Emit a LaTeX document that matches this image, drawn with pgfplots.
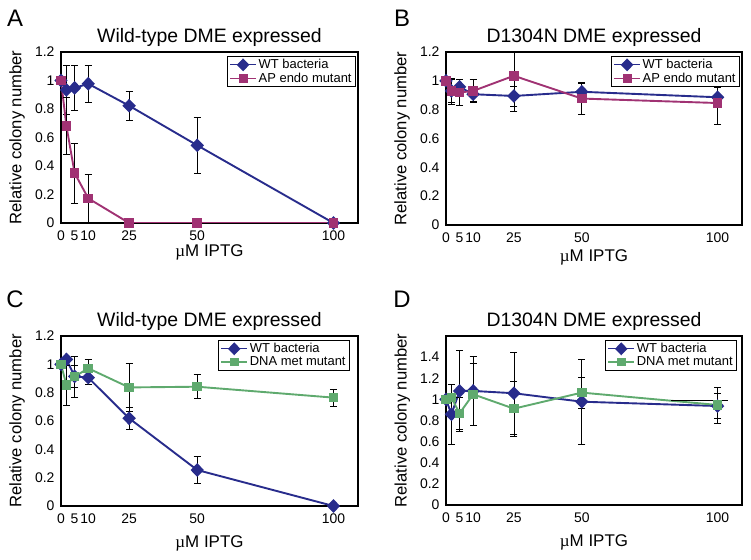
\documentclass[border=0pt]{standalone}
\usepackage{pgfplots}
\pgfplotsset{compat=1.18}
\usepackage{fontspec}
\setmainfont{Liberation Sans}
\newfontfamily\serifmu{Liberation Serif}
\definecolor{wtblue}{RGB}{40,44,140}
\definecolor{apmag}{RGB}{160,50,115}
\definecolor{dnagreen}{RGB}{95,170,110}
\pgfplotsset{
  panel/.style={
    scale only axis, width=297bp, height=171bp,
    xmin=0, xmax=109, ymin=0, ymax=1.2,
    xtick={0,5,10,25,50,100},
    ytick={0,0.2,...,1.2},
    major tick length=0pt,
    axis line style={line width=1.3bp},
    /pgf/number format/assume math mode=true,
    tick label style={font=\fontsize{14}{16}\selectfont},
    xticklabel style={yshift=-4bp},
    yticklabel style={xshift=-3bp},
    yticklabel={\pgfmathprintnumber[fixed,precision=1]{\tick}},
    title style={font=\fontsize{19.5}{22}\selectfont, at={(axis description cs:0.5,1)}, anchor=center, yshift=9bp},
    ylabel={Relative colony number},
    ylabel style={font=\fontsize{16.7}{19}\selectfont, at={(axis description cs:-0.148,0.5)}, anchor=center},
    xlabel={{\serifmu µ}M IPTG},
    xlabel style={font=\fontsize{17}{19}\selectfont},
    legend style={at={(axis description cs:1,1)}, anchor=north east, xshift=-2bp, yshift=-4bp, font=\fontsize{13}{15}\selectfont, draw=black, line width=0.8bp, inner xsep=2bp, inner ysep=1bp, row sep=-1.5pt},
    legend cell align=left,
    legend image code/.code={\draw[mark repeat=2,mark phase=2,line width=1.3bp] plot coordinates {(0bp,0bp)(13bp,0bp)(26bp,0bp)};},
  },
  eb/.style={error bars/.cd, y dir=both, y explicit,
    error bar style={black, line width=0.6bp},
    error mark options={rotate=90, black, mark size=3.5bp, line width=0.6bp}},
  wt/.style={wtblue, line width=1.9bp, mark=diamond*, mark size=5.5bp, mark options={xscale=1.3, solid, fill=wtblue}, eb},
  ap/.style={apmag, line width=1.9bp, mark=square*, mark size=3.8bp, mark options={solid, fill=apmag}, eb},
  dna/.style={dnagreen, line width=1.9bp, mark=square*, mark size=3.8bp, mark options={solid, fill=dnagreen}, eb},
}
\begin{document}
\begin{tikzpicture}
\useasboundingbox (0,0) rectangle (751bp,560bp);
\node[font=\fontsize{24}{28}\selectfont] at (15bp,542bp) {A};
\node[font=\fontsize{24}{28}\selectfont] at (402bp,542bp) {B};
\node[font=\fontsize{24}{28}\selectfont] at (15bp,261bp) {C};
\node[font=\fontsize{24}{28}\selectfont] at (402bp,261bp) {D};

% Panel A
\begin{axis}[panel, at={(61bp,337bp)}, anchor=south west,
  title={Wild-type DME expressed},
  xlabel style={at={(axis description cs:0.5,-0.17)}, anchor=center}]
\addplot[wt] table[x=x, y=y, y error=e] {
x y e
0 1.0 0
2 0.934 0.17
5 0.948 0.16
10 0.977 0.13
25 0.823 0.10
50 0.545 0.195
100 0 0
};
\addlegendentry{WT bacteria}
\addplot[ap] table[x=x, y=y, y error=e] {
x y e
0 1.0 0
2 0.68 0.20
5 0.35 0.21
10 0.173 0.17
25 0 0
50 0 0
100 0 0
};
\addlegendentry{AP endo mutant}
\end{axis}

% Panel B
\begin{axis}[panel, at={(446bp,335bp)}, anchor=south west, width=296bp, height=173bp,
  title={D1304N DME expressed},
  xlabel style={at={(axis description cs:0.5,-0.185)}, anchor=center}]
\addplot[wt] table[x=x, y=y, y error=e] {
x y e
0 1.0 0
2 0.93 0.08
5 0.958 0.05
10 0.907 0.05
25 0.895 0.07
50 0.924 0.06
100 0.886 0.07
};
\addlegendentry{WT bacteria}
\addplot[ap] table[x=x, y=y, y error=e] {
x y e
0 1.0 0
2 0.93 0.09
5 0.919 0.09
10 0.93 0.08
25 1.035 0.245
50 0.877 0.11
100 0.846 0.15
};
\addlegendentry{AP endo mutant}
\end{axis}

% Panel C
\begin{axis}[panel, at={(61bp,54bp)}, anchor=south west, height=170bp,
  title={Wild-type DME expressed},
  xlabel style={at={(axis description cs:0.5,-0.22)}, anchor=center},
  legend style={xshift=-6bp}]
\addplot[wt] table[x=x, y=y, y error=e] {
x y e
0 1.0 0
2 1.035 0
5 0.915 0.08
10 0.906 0.05
25 0.619 0.077
50 0.254 0.094
100 0 0
};
\addlegendentry{WT bacteria}
\addplot[dna] table[x=x, y=y, y error=e] {
x y e
0 1.0 0
2 0.854 0.14
5 0.913 0.143
10 0.972 0.063
25 0.837 0.172
50 0.842 0.085
100 0.765 0.06
};
\addlegendentry{DNA met mutant}
\end{axis}

% Panel D
\begin{axis}[panel, at={(446bp,55bp)}, anchor=south west, width=296bp, height=169bp,
  ymax=1.6, ytick={0,0.2,...,1.4},
  title={D1304N DME expressed},
  xlabel style={at={(axis description cs:0.5,-0.22)}, anchor=center},
  legend style={xshift=-3bp}]
\addplot[wt] table[x=x, y=y, y error=e] {
x y e
0 1.0 0
2 0.859 0.285
5 1.08 0.38
10 1.08 0.33
25 1.058 0.385
50 0.978 0.40
100 0.937 0.12
};
\addlegendentry{WT bacteria}
\addplot[dna] table[x=x, y=y, y error=e] {
x y e
0 1.0 0
2 1.016 0
5 0.868 0.15
10 1.048 0.29
25 0.912 0.26
50 1.064 0.145
100 0.947 0.17
};
\addlegendentry{DNA met mutant}
\addplot[black, line width=0.6bp, no marks, forget plot] coordinates {(83,0.994) (104,0.994)};
\end{axis}
\end{tikzpicture}
\end{document}
